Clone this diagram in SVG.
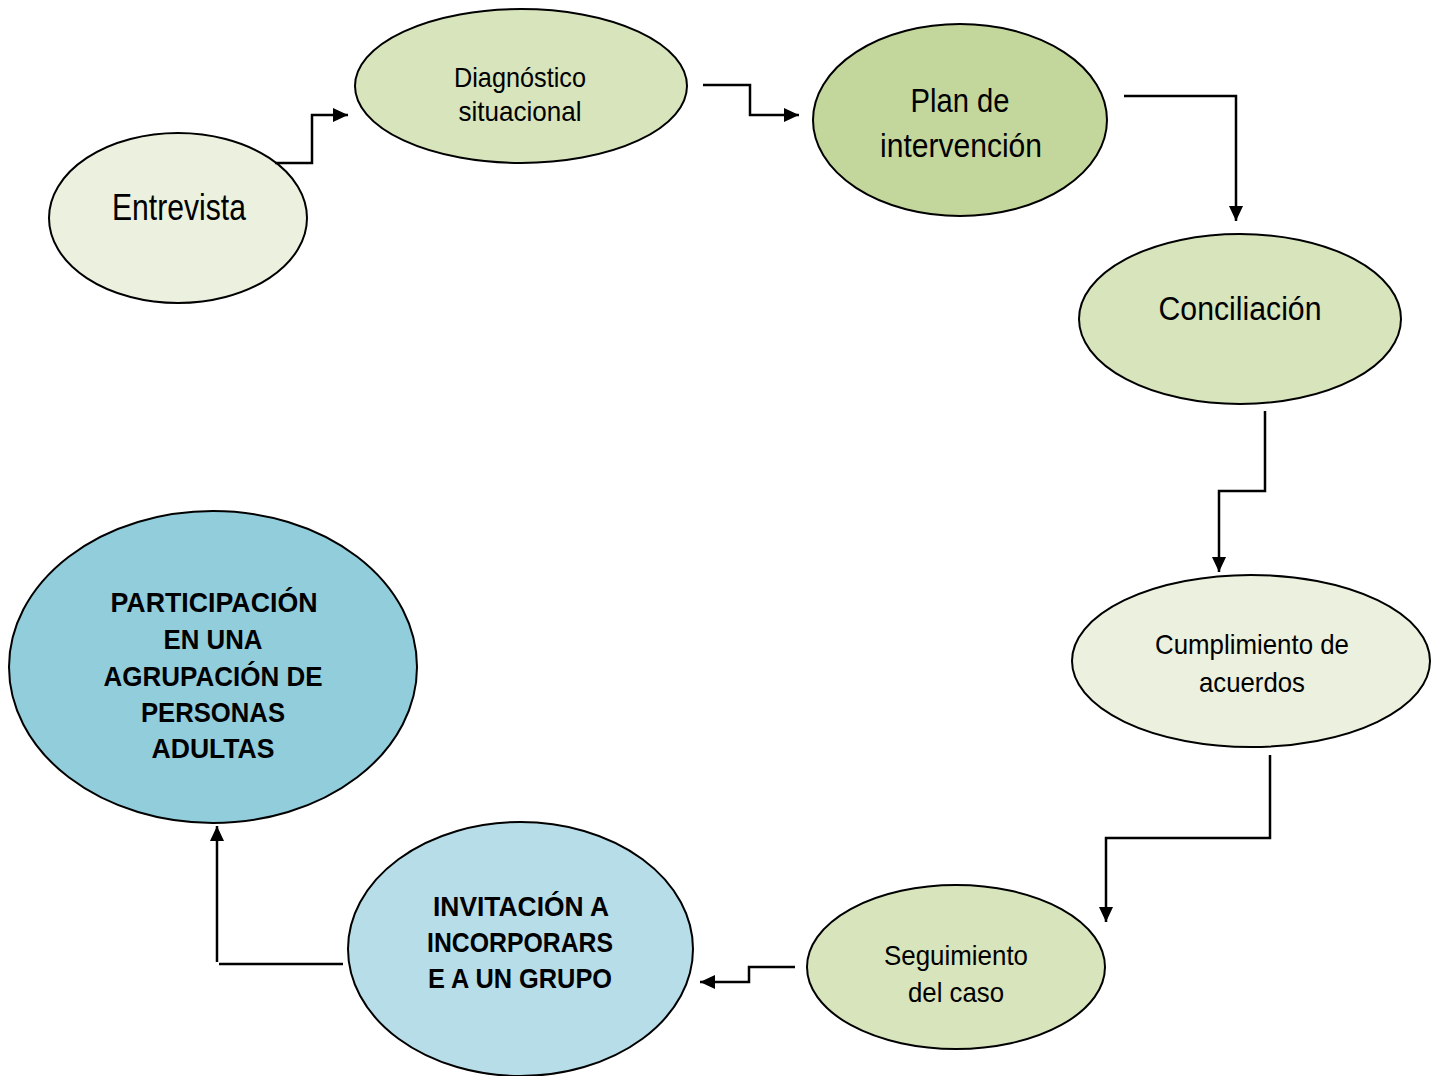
<svg xmlns="http://www.w3.org/2000/svg" width="1441" height="1076" viewBox="0 0 1441 1076">
<defs>
<marker id="ah" markerWidth="16" markerHeight="14" refX="15" refY="7" orient="auto" markerUnits="userSpaceOnUse">
<path d="M0,0 L15,7 L0,14 Z" fill="#000"/>
</marker>
<style>
.n{stroke:#000;stroke-width:2}
.t{font-family:"Liberation Sans",Arial,sans-serif;fill:#000;text-anchor:middle}
.b{font-weight:bold}
.c{fill:none;stroke:#000;stroke-width:2.5}
</style>
</defs>
<rect width="1441" height="1076" fill="#fff"/>
<g id="entrevista">
<ellipse class="n" cx="178" cy="218" rx="129" ry="85" fill="#ebf1de"/>
<text class="t" x="179" y="220" font-size="36" textLength="134" lengthAdjust="spacingAndGlyphs">Entrevista</text>
</g>
<g id="diagnostico">
<ellipse class="n" cx="521" cy="86" rx="166" ry="77" fill="#d7e4bc"/>
<text class="t" x="520" y="87" font-size="28" textLength="132" lengthAdjust="spacingAndGlyphs">Diagnóstico</text>
<text class="t" x="520" y="121" font-size="28" textLength="123" lengthAdjust="spacingAndGlyphs">situacional</text>
</g>
<g id="plan">
<ellipse class="n" cx="960" cy="120" rx="147" ry="96" fill="#c3d69b"/>
<text class="t" x="960" y="112" font-size="34" textLength="99" lengthAdjust="spacingAndGlyphs">Plan de</text>
<text class="t" x="961" y="157" font-size="34" textLength="162" lengthAdjust="spacingAndGlyphs">intervención</text>
</g>
<g id="conciliacion">
<ellipse class="n" cx="1240" cy="319" rx="161" ry="85" fill="#d7e4bc"/>
<text class="t" x="1240" y="320" font-size="34" textLength="163" lengthAdjust="spacingAndGlyphs">Conciliación</text>
</g>
<g id="cumplimiento">
<ellipse class="n" cx="1251" cy="661" rx="179" ry="86" fill="#ebf1de"/>
<text class="t" x="1252" y="654" font-size="28" textLength="194" lengthAdjust="spacingAndGlyphs">Cumplimiento de</text>
<text class="t" x="1252" y="692" font-size="28" textLength="106" lengthAdjust="spacingAndGlyphs">acuerdos</text>
</g>
<g id="seguimiento">
<ellipse class="n" cx="956" cy="967" rx="149" ry="82" fill="#d7e4bc"/>
<text class="t" x="956" y="965" font-size="28" textLength="144" lengthAdjust="spacingAndGlyphs">Seguimiento</text>
<text class="t" x="956" y="1002" font-size="28" textLength="96" lengthAdjust="spacingAndGlyphs">del caso</text>
</g>
<g id="invitacion">
<ellipse class="n" cx="520.5" cy="949" rx="172.5" ry="127" fill="#b7dde8"/>
<text class="t b" x="521" y="916" font-size="28" textLength="176" lengthAdjust="spacingAndGlyphs">INVITACIÓN A</text>
<text class="t b" x="520" y="952" font-size="28" textLength="186" lengthAdjust="spacingAndGlyphs">INCORPORARS</text>
<text class="t b" x="520" y="988" font-size="28" textLength="184" lengthAdjust="spacingAndGlyphs">E A UN GRUPO</text>
</g>
<g id="participacion">
<ellipse class="n" cx="213" cy="667" rx="204" ry="156" fill="#92cddc"/>
<text class="t b" x="214" y="612" font-size="28" textLength="207" lengthAdjust="spacingAndGlyphs">PARTICIPACIÓN</text>
<text class="t b" x="213" y="649" font-size="28" textLength="99" lengthAdjust="spacingAndGlyphs">EN UNA</text>
<text class="t b" x="213" y="686" font-size="28" textLength="219" lengthAdjust="spacingAndGlyphs">AGRUPACIÓN DE</text>
<text class="t b" x="213" y="722" font-size="28" textLength="144" lengthAdjust="spacingAndGlyphs">PERSONAS</text>
<text class="t b" x="213" y="758" font-size="28" textLength="123" lengthAdjust="spacingAndGlyphs">ADULTAS</text>
</g>
<g id="connectors">
<path class="c" d="M275,163 H312 V115 H348" marker-end="url(#ah)"/>
<path class="c" d="M703,85 H750 V115 H799" marker-end="url(#ah)"/>
<path class="c" d="M1124,96 H1236 V221" marker-end="url(#ah)"/>
<path class="c" d="M1265,411 V491 H1219 V572" marker-end="url(#ah)"/>
<path class="c" d="M1270,755 V838 H1106 V922" marker-end="url(#ah)"/>
<path class="c" d="M795,967 H749 V982 H700" marker-end="url(#ah)"/>
<path class="c" d="M343,964 H219"/>
<path class="c" d="M217,962 V826" marker-end="url(#ah)"/>
</g>
</svg>
